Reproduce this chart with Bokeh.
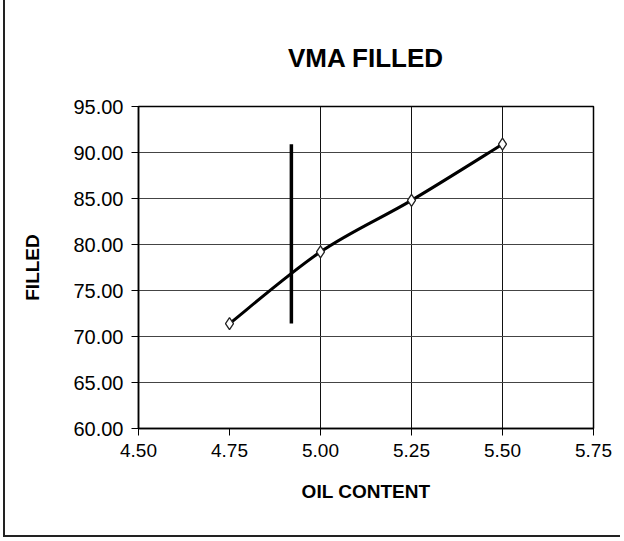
from bokeh.plotting import figure
from bokeh.models import FixedTicker, NumeralTickFormatter, Range1d
from bokeh.embed import file_html
from bokeh.resources import INLINE

# ---- data ----
oil_content = [4.75, 5.00, 5.25, 5.50]
filled = [71.4, 79.2, 84.8, 90.9]
x_ticks = [4.50, 4.75, 5.00, 5.25, 5.50, 5.75]
y_ticks = [60, 65, 70, 75, 80, 85, 90, 95]
x_grid = [5.00, 5.25, 5.50]
opt_x = [4.92, 4.92]
opt_y = [71.4, 90.9]

FONT = "Liberation Sans"

p = figure(width=617, height=537, output_backend="svg", toolbar_location=None,
           x_range=Range1d(4.5, 5.75), y_range=Range1d(60, 95),
           min_border_left=133, min_border_right=29, min_border_top=106,
           min_border_bottom=109, title="VMA FILLED")
p.styles = {"margin-left": "3px", "border-left": "2px solid #222",
            "border-bottom": "2px solid #222"}
p.background_fill_color = "white"
p.border_fill_color = "white"
p.outline_line_color = "black"
p.outline_line_width = 1.5

p.title.align = "center"
p.title.text_font = FONT
p.title.text_font_size = "26px"
p.title.text_font_style = "bold"
p.title.text_color = "black"
p.title.standoff = 68

for ax in (p.xaxis[0], p.yaxis[0]):
    ax.axis_line_color = "black"
    ax.axis_line_width = 1.5
    ax.major_tick_line_color = "black"
    ax.major_tick_in = 0
    ax.major_tick_out = 7
    ax.minor_tick_line_color = None
    ax.major_label_text_font = FONT
    ax.major_label_text_font_size = "19px"
    ax.major_label_text_color = "black"
    ax.axis_label_text_font = FONT
    ax.axis_label_text_font_size = "19px"
    ax.axis_label_text_font_style = "bold"
    ax.axis_label_text_color = "black"
    ax.formatter = NumeralTickFormatter(format="0.00")

p.yaxis.major_label_text_font_size = "20px"
p.xaxis.ticker = FixedTicker(ticks=x_ticks)
p.yaxis.ticker = FixedTicker(ticks=y_ticks)
p.xaxis.axis_label = "OIL CONTENT"
p.yaxis.axis_label = "FILLED"
p.xaxis.major_label_standoff = 8
p.yaxis.major_label_standoff = 8
p.xaxis.axis_label_standoff = 21
p.yaxis.axis_label_standoff = 27

p.xgrid.ticker = FixedTicker(ticks=x_grid)
p.xgrid.grid_line_color = "#111111"
p.xgrid.grid_line_width = 1
p.ygrid.ticker = FixedTicker(ticks=y_ticks)
p.ygrid.grid_line_color = "#444444"
p.ygrid.grid_line_width = 1.2

# smooth (Catmull-Rom style) curve through the points
n = len(oil_content)
x0, y0, x1, y1, cx0, cy0, cx1, cy1 = [], [], [], [], [], [], [], []
for i in range(n - 1):
    im = max(i - 1, 0)
    ip2 = min(i + 2, n - 1)
    x0.append(oil_content[i]); y0.append(filled[i])
    x1.append(oil_content[i + 1]); y1.append(filled[i + 1])
    cx0.append(oil_content[i] + (oil_content[i + 1] - oil_content[im]) / 6)
    cy0.append(filled[i] + (filled[i + 1] - filled[im]) / 6)
    cx1.append(oil_content[i + 1] - (oil_content[ip2] - oil_content[i]) / 6)
    cy1.append(filled[i + 1] - (filled[ip2] - filled[i]) / 6)
p.bezier(x0=x0, y0=y0, x1=x1, y1=y1, cx0=cx0, cy0=cy0, cx1=cx1, cy1=cy1,
         line_color="black", line_width=3)

p.line(opt_x, opt_y, line_color="black", line_width=3.5)

p.scatter(oil_content, filled, marker="diamond", size=12, fill_color="white",
          line_color="#222222", line_width=1.3)

open("out.html", "w").write(file_html(p, INLINE))
